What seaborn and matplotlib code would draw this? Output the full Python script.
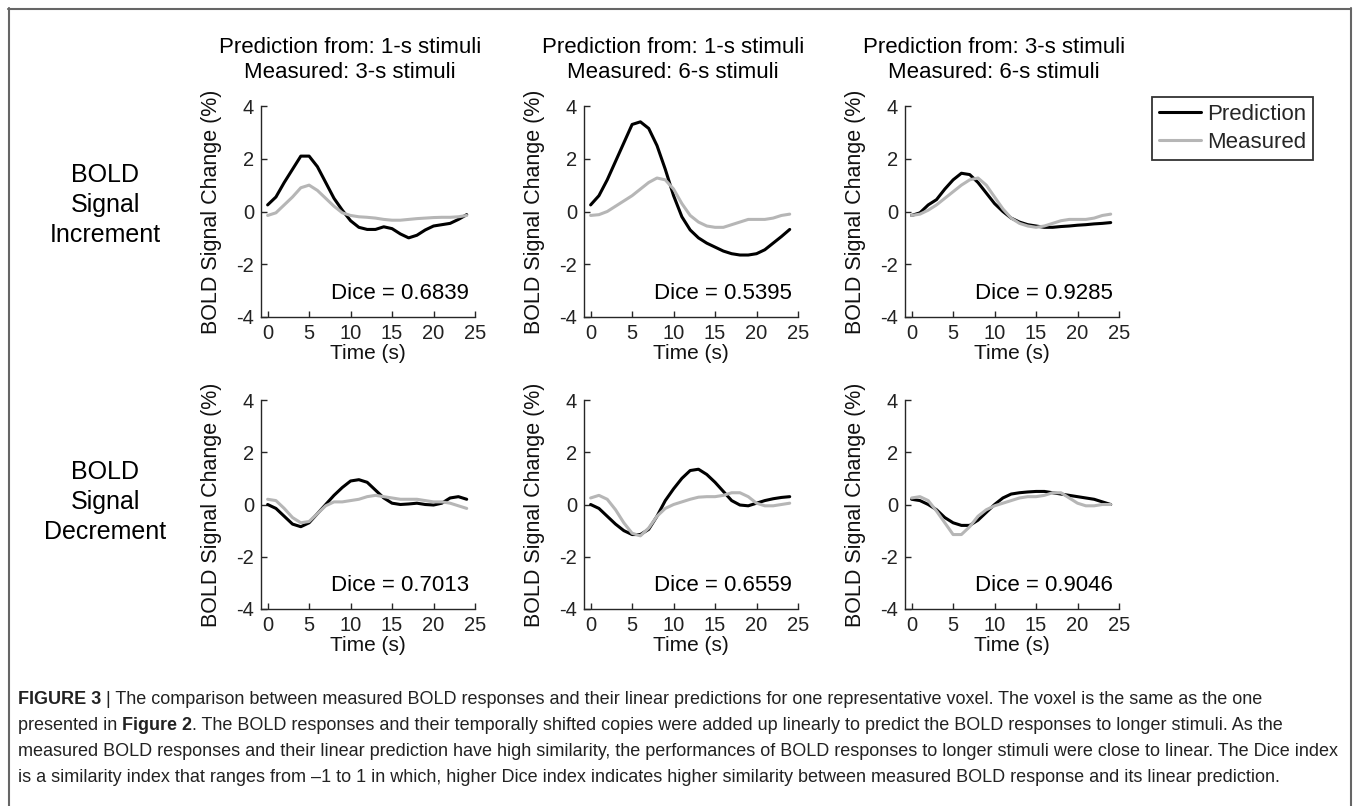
import matplotlib
matplotlib.use("Agg")
import matplotlib.pyplot as plt
import seaborn as sns
from matplotlib.lines import Line2D

sns.set_style("white")
plt.rcParams['font.family'] = ['Liberation Sans', 'DejaVu Sans']

# ---------------- data ----------------
time_s = list(range(25))

# Row 1: BOLD signal increment
pred_inc_1to3 = [0.25, 0.55, 1.1, 1.6, 2.1, 2.1, 1.7, 1.1, 0.5, 0.05, -0.35, -0.6, -0.68, -0.68, -0.58,
                 -0.65, -0.85, -1.0, -0.9, -0.7, -0.55, -0.5, -0.45, -0.3, -0.12]
meas_inc_1to3 = [-0.15, -0.05, 0.25, 0.55, 0.9, 1.0, 0.8, 0.5, 0.2, -0.05, -0.15, -0.2, -0.22, -0.25, -0.3,
                 -0.33, -0.33, -0.3, -0.27, -0.25, -0.23, -0.22, -0.22, -0.2, -0.15]
pred_inc_1to6 = [0.25, 0.6, 1.2, 1.9, 2.6, 3.3, 3.4, 3.15, 2.5, 1.6, 0.6, -0.2, -0.7, -1.0, -1.2,
                 -1.35, -1.5, -1.6, -1.65, -1.65, -1.6, -1.45, -1.2, -0.95, -0.68]
meas_inc_1to6 = [-0.15, -0.12, 0.0, 0.2, 0.4, 0.6, 0.85, 1.1, 1.27, 1.2, 0.85, 0.3, -0.15, -0.4, -0.55,
                 -0.6, -0.6, -0.5, -0.4, -0.3, -0.3, -0.3, -0.25, -0.15, -0.1]
pred_inc_3to6 = [-0.15, -0.05, 0.25, 0.45, 0.85, 1.2, 1.45, 1.4, 1.1, 0.7, 0.3, 0.0, -0.25, -0.4, -0.5,
                 -0.55, -0.6, -0.6, -0.57, -0.55, -0.52, -0.5, -0.47, -0.45, -0.42]
meas_inc_3to6 = [-0.15, -0.1, 0.05, 0.25, 0.5, 0.75, 1.0, 1.2, 1.27, 1.0, 0.55, 0.1, -0.25, -0.45, -0.55,
                 -0.6, -0.55, -0.45, -0.35, -0.3, -0.3, -0.3, -0.25, -0.15, -0.1]

# Row 2: BOLD signal decrement
pred_dec_1to3 = [0.0, -0.15, -0.45, -0.75, -0.85, -0.7, -0.35, 0.0, 0.35, 0.65, 0.9, 0.95, 0.85, 0.55, 0.25,
                 0.05, 0.0, 0.02, 0.05, 0.0, -0.02, 0.05, 0.25, 0.3, 0.2]
meas_dec_1to3 = [0.2, 0.15, -0.15, -0.5, -0.7, -0.65, -0.35, -0.05, 0.1, 0.1, 0.15, 0.2, 0.3, 0.35, 0.3,
                 0.25, 0.2, 0.2, 0.2, 0.15, 0.1, 0.1, 0.05, -0.05, -0.15]
pred_dec_1to6 = [0.0, -0.15, -0.45, -0.75, -1.0, -1.15, -1.15, -0.95, -0.45, 0.15, 0.6, 1.0, 1.3, 1.35, 1.15,
                 0.85, 0.5, 0.15, -0.02, -0.05, 0.05, 0.15, 0.22, 0.27, 0.3]
meas_dec_1to6 = [0.25, 0.35, 0.2, -0.2, -0.7, -1.1, -1.2, -0.9, -0.45, -0.15, 0.0, 0.1, 0.2, 0.28, 0.3,
                 0.3, 0.35, 0.45, 0.45, 0.3, 0.05, -0.05, -0.05, 0.0, 0.05]
pred_dec_3to6 = [0.2, 0.15, 0.0, -0.2, -0.5, -0.7, -0.8, -0.8, -0.6, -0.3, 0.0, 0.25, 0.4, 0.45, 0.48,
                 0.5, 0.5, 0.45, 0.4, 0.35, 0.3, 0.25, 0.2, 0.1, 0.0]
meas_dec_3to6 = [0.25, 0.3, 0.15, -0.25, -0.7, -1.15, -1.15, -0.85, -0.45, -0.2, -0.05, 0.05, 0.15, 0.25, 0.3,
                 0.3, 0.35, 0.45, 0.45, 0.25, 0.05, -0.05, -0.05, 0.0, 0.0]

dice_values = [["0.6839", "0.5395", "0.9285"], ["0.7013", "0.6559", "0.9046"]]
col_titles = ["Prediction from: 1-s stimuli\nMeasured: 3-s stimuli",
              "Prediction from: 1-s stimuli\nMeasured: 6-s stimuli",
              "Prediction from: 3-s stimuli\nMeasured: 6-s stimuli"]
row_labels = ["BOLD\nSignal\nIncrement", "BOLD\nSignal\nDecrement"]
series_names = ["Prediction", "Measured"]
x_ticks = [0, 5, 10, 15, 20, 25]
y_ticks = [-4, -2, 0, 2, 4]

panels = [[(pred_inc_1to3, meas_inc_1to3), (pred_inc_1to6, meas_inc_1to6), (pred_inc_3to6, meas_inc_3to6)],
          [(pred_dec_1to3, meas_dec_1to3), (pred_dec_1to6, meas_dec_1to6), (pred_dec_3to6, meas_dec_3to6)]]

caption_lines = [
    [("FIGURE 3", "bold"), ("| The comparison between measured BOLD responses and their linear predictions for one representative voxel. The voxel is the same as the one", "normal")],
    [("presented in", "normal"), ("Figure 2", "bold"), (". The BOLD responses and their temporally shifted copies were added up linearly to predict the BOLD responses to longer stimuli. As the", "normal")],
    [("measured BOLD responses and their linear prediction have high similarity, the performances of BOLD responses to longer stimuli were close to linear. The Dice index", "normal")],
    [("is a similarity index that ranges from \u20131 to 1 in which, higher Dice index indicates higher similarity between measured BOLD response and its linear prediction.", "normal")],
]

# ---------------- layout ----------------
W, H = 1358, 806
fig = plt.figure(figsize=(W / 100, H / 100), dpi=100)
fig.patch.set_facecolor("white")

def fx(px):
    return px / W

def fy(py):
    return 1 - py / H

col_left = [261, 584, 905]
ax_w = 214
row_top = [106, 400]
row_bot = [317, 609]
PRED_COLOR = "black"
MEAS_COLOR = "#b6b6b6"
AX_COLOR = "#262626"

axes = []
for r in range(2):
    for c in range(3):
        ax = fig.add_axes([fx(col_left[c]), fy(row_bot[r]), ax_w / W, (row_bot[r] - row_top[r]) / H])
        pred, meas = panels[r][c]
        sns.lineplot(x=time_s, y=pred, ax=ax, color=PRED_COLOR, linewidth=2.2, label=series_names[0], legend=False)
        sns.lineplot(x=time_s, y=meas, ax=ax, color=MEAS_COLOR, linewidth=2.2, label=series_names[1], legend=False)
        ax.set_xlim(-0.8, 25)
        ax.set_ylim(-4, 4)
        ax.set_xticks(x_ticks)
        ax.set_yticks(y_ticks)
        ax.set_xticklabels([str(v) for v in x_ticks])
        ax.set_yticklabels([str(v) for v in y_ticks])
        for s in ["top", "right"]:
            ax.spines[s].set_visible(False)
        for s in ["left", "bottom"]:
            ax.spines[s].set_color(AX_COLOR)
            ax.spines[s].set_linewidth(1.0)
        ax.tick_params(direction="in", length=4, width=1, colors=AX_COLOR, labelsize=14.5,
                       labelcolor="#222222", pad=5, left=True, bottom=True)
        ax.set_xlabel("Time (s)", fontsize=15, color="#111111", labelpad=1)
        ax.set_ylabel("BOLD Signal Change (%)", fontsize=15.5, color="#111111", labelpad=10)
        ax.text(24.3, -3.1, "Dice = " + dice_values[r][c], ha="right", va="center", fontsize=16, color="black")
        ax.set_facecolor("none")
        axes.append(ax)

# column titles
for c in range(3):
    cx = col_left[c] + ax_w / 2 - 18
    fig.text(fx(cx), fy(60), col_titles[c], ha="center", va="center", fontsize=16,
             linespacing=1.2, color="black")

# row labels
for r, cy in enumerate([205, 502]):
    fig.text(fx(105), fy(cy), row_labels[r], ha="center", va="center", fontsize=18,
             linespacing=1.3, color="black")

# legend
handles = [Line2D([], [], color=PRED_COLOR, lw=2.2), Line2D([], [], color=MEAS_COLOR, lw=2.2)]
leg = fig.legend(handles, series_names, loc="upper left", bbox_to_anchor=(fx(1152), fy(97)),
                 fontsize=16, frameon=True, fancybox=False, borderpad=0.32, handlelength=1.9,
                 handletextpad=0.25, labelspacing=0.3, borderaxespad=0)
leg.get_frame().set_edgecolor("black")
leg.get_frame().set_linewidth(1.3)

# outer frame
frame_color = "#666666"
fig.add_artist(Line2D([fx(8), fx(1351)], [fy(8.5), fy(8.5)], transform=fig.transFigure, color=frame_color, lw=1.5))
fig.add_artist(Line2D([fx(8.5), fx(8.5)], [fy(8), fy(812)], transform=fig.transFigure, color=frame_color, lw=1.5))
fig.add_artist(Line2D([fx(1350.5), fx(1350.5)], [fy(8), fy(812)], transform=fig.transFigure, color=frame_color, lw=1.5))

# caption
renderer = fig.canvas.get_renderer()
probe = fig.text(0, 0, caption_lines[2][0][0], fontsize=10)
pw = probe.get_window_extent(renderer).width
probe.remove()
cap_fs = 10 * (1322 / pw)
space_px = 0.27 * cap_fs * 100 / 72
cap_y = [700, 726, 752, 778]
for line, py in zip(caption_lines, cap_y):
    x = 18
    for i, (txt, wt) in enumerate(line):
        if i > 0 and not txt.startswith("."):
            x += space_px
        t = fig.text(fx(x), fy(py), txt, fontsize=cap_fs, fontweight=wt, ha="left", va="center",
                     color="#222222")
        x = t.get_window_extent(renderer).x1

fig.savefig("out.png", dpi=100, facecolor="white")
